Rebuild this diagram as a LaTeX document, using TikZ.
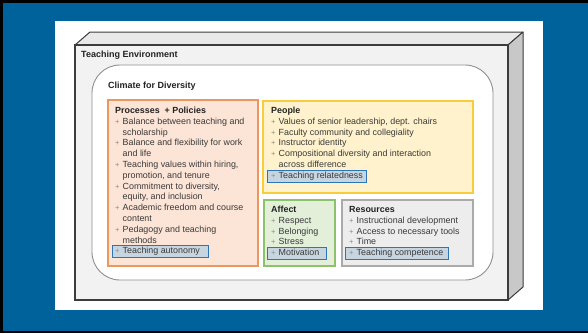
\documentclass[tikz,border=0pt]{standalone}
\usepackage{fontspec}
\setmainfont{Liberation Sans}
\definecolor{bgblue}{HTML}{00629B}
\definecolor{faceA}{HTML}{F2F2F2}
\definecolor{faceTop}{HTML}{E9E9E9}
\definecolor{faceSide}{HTML}{C8C8C8}
\definecolor{edgeD}{HTML}{3C3C3C}
\definecolor{climEdge}{HTML}{8F8F8F}
\definecolor{orB}{HTML}{EC9660}
\definecolor{orF}{HTML}{FCE4D6}
\definecolor{yeB}{HTML}{F7CD3C}
\definecolor{yeF}{HTML}{FFF2CC}
\definecolor{grB}{HTML}{8CC26C}
\definecolor{grF}{HTML}{E3EFD9}
\definecolor{gyB}{HTML}{AAAAAA}
\definecolor{gyF}{HTML}{EDEDED}
\definecolor{hlB}{HTML}{2E75B6}
\definecolor{hlF}{HTML}{C7D5E0}
\definecolor{txtgray}{HTML}{3A3A3A}
\definecolor{ttlcol}{HTML}{222222}
\definecolor{plusgray}{HTML}{8A8A8A}
\newcommand\Pl{\makebox[7.5pt][l]{\color{plusgray}\fontsize{7.5}{7.5}\selectfont+}}
\newcommand\Ind{\hspace*{7.5pt}}
\newcommand\Ln[1]{\hbox{#1}}
\newcommand\Ttl[1]{\hbox{\color{ttlcol}\bfseries #1}}
\begin{document}
\begin{tikzpicture}[x=1pt,y=-1pt,
  blk/.style={anchor=base west, inner sep=0, text=txtgray, font=\fontsize{8.9}{10.8}\selectfont},
  head/.style={anchor=base west, inner sep=0, text=ttlcol, font=\bfseries\fontsize{9}{10}\selectfont},
  cbox/.style={draw=#1B, fill=#1F, line width=1.8pt, anchor=north west, inner sep=0},
  hl/.style={draw=hlB, fill=hlF, line width=0.9pt, anchor=north west, inner sep=0},
]
\useasboundingbox (0,0) rectangle (588,333);
% background
\fill[black] (0,0) rectangle (588,333);
\fill[bgblue] (2.5,2.5) rectangle (588,330.5);
\fill[white] (55,21) rectangle (543,310);
% 3D box
\coordinate (fTL) at (75,45);
\coordinate (fTR) at (508,45);
\coordinate (fBR) at (508,300);
\coordinate (fBL) at (75,300);
\coordinate (bTL) at (90,32);
\coordinate (bTR) at (523,32);
\coordinate (bBR) at (523,287);
\draw[edgeD, line width=1pt, fill=faceTop, line join=round] (fTL) -- (bTL) -- (bTR) -- (fTR) -- cycle;
\draw[edgeD, line width=1pt, fill=faceSide, line join=round] (fTR) -- (bTR) -- (bBR) -- (fBR) -- cycle;
\draw[edgeD, line width=1.1pt, fill=faceA] (fTL) rectangle (fBR);
\node[head] (env) at (81,57.5) {Teaching Environment};
% climate
\draw[climEdge, line width=0.9pt, fill=white, rounded corners=28pt] (92,65) rectangle (493,280);
\node[head] (clim) at (108,88.5) {Climate for Diversity};
% category boxes
\node[cbox=or, minimum width=150pt, minimum height=166pt] (proc) at (107,99) {};
\node[cbox=ye, minimum width=210pt, minimum height=92pt] (peop) at (262,100) {};
\node[cbox=gr, minimum width=71pt, minimum height=66pt] (aff) at (263,199) {};
\node[cbox=gy, minimum width=131pt, minimum height=66pt] (res) at (341,199) {};
% highlights
\node[hl, minimum width=96pt, minimum height=12pt] (hauto) at (112,245) {};
\node[hl, minimum width=99pt, minimum height=12pt] (hrel) at (267,170) {};
\node[hl, minimum width=59pt, minimum height=12pt] (hmot) at (267,247) {};
\node[hl, minimum width=103pt, minimum height=12pt] (hcomp) at (345,247) {};
% texts
\node[blk] (tproc) at (115,113.5) {\vtop{\baselineskip=10.8pt\lineskiplimit=-20pt
  \Ttl{Processes\ \ + Policies}
  \Ln{\Pl Balance between teaching and}
  \Ln{\Ind scholarship}
  \Ln{\Pl Balance and flexibility for work}
  \Ln{\Ind and life}
  \Ln{\Pl Teaching values within hiring,}
  \Ln{\Ind promotion, and tenure}
  \Ln{\Pl Commitment to diversity,}
  \Ln{\Ind equity, and inclusion}
  \Ln{\Pl Academic freedom and course}
  \Ln{\Ind content}
  \Ln{\Pl Pedagogy and teaching}
  \Ln{\Ind methods}
  \Ln{\Pl Teaching autonomy}}};
\node[blk] (tpeop) at (271,113.5) {\vtop{\baselineskip=10.8pt\lineskiplimit=-20pt
  \Ttl{People}
  \Ln{\Pl Values of senior leadership, dept. chairs}
  \Ln{\Pl Faculty community and collegiality}
  \Ln{\Pl Instructor identity}
  \Ln{\Pl Compositional diversity and interaction}
  \Ln{\Ind across difference}
  \Ln{\Pl Teaching relatedness}}};
\node[blk] (taff) at (271,212.5) {\vtop{\baselineskip=10.8pt\lineskiplimit=-20pt
  \Ttl{Affect}
  \Ln{\Pl Respect}
  \Ln{\Pl Belonging}
  \Ln{\Pl Stress}
  \Ln{\Pl Motivation}}};
\node[blk] (tres) at (349,212.5) {\vtop{\baselineskip=10.8pt\lineskiplimit=-20pt
  \Ttl{Resources}
  \Ln{\Pl Instructional development}
  \Ln{\Pl Access to necessary tools}
  \Ln{\Pl Time}
  \Ln{\Pl Teaching competence}}};
\end{tikzpicture}
\end{document}
